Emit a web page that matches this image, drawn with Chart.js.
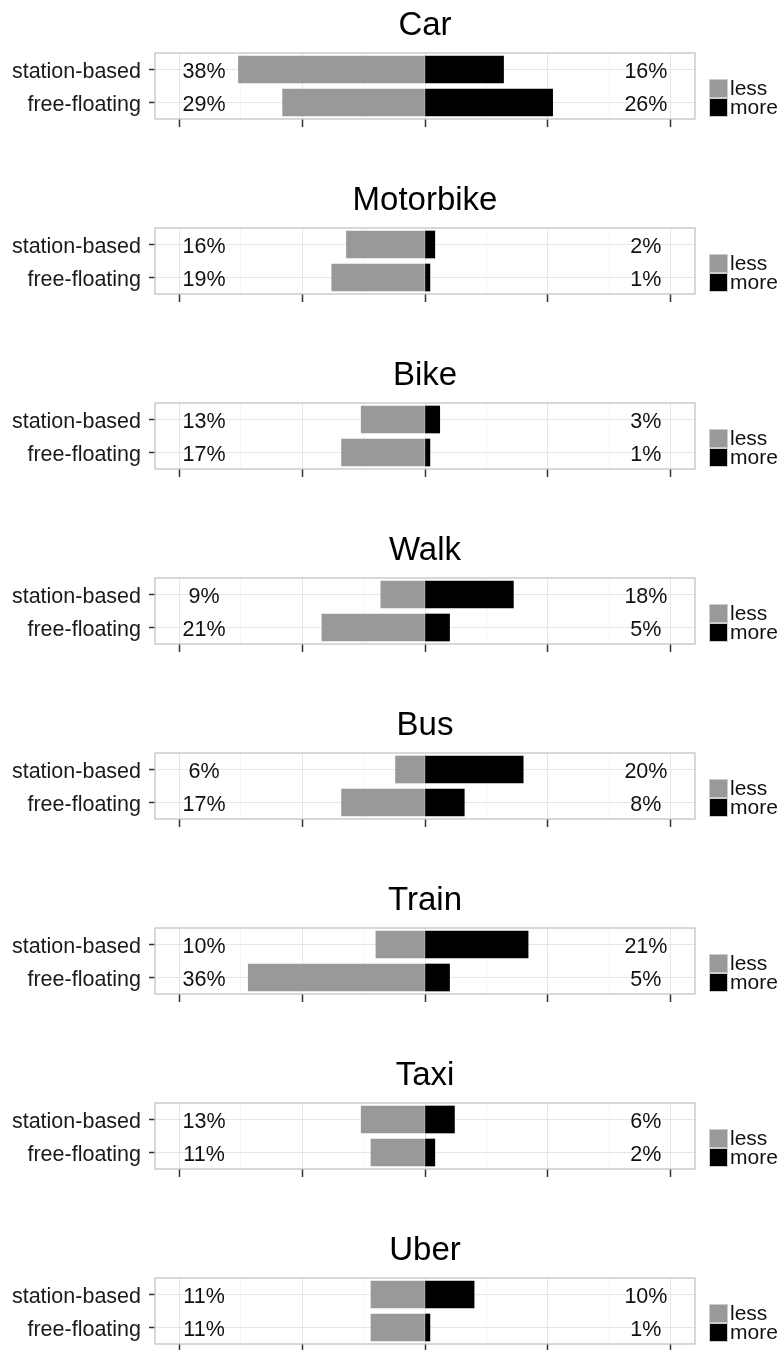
<!DOCTYPE html>
<html>
<head>
<meta charset="utf-8">
<script src="https://cdn.jsdelivr.net/npm/chart.js@4.4.0/dist/chart.umd.min.js"></script>
<style>
  body { margin: 0; background: #fff; }
  canvas { display: block; }
</style>
</head>
<body>
<div id="charts"></div>
<script>
// Share of respondents travelling less / more by each mode
const modes = ['Car', 'Motorbike', 'Bike', 'Walk', 'Bus', 'Train', 'Taxi', 'Uber'];
const groups = ['station-based', 'free-floating'];
const stationLess = [38, 16, 13, 9, 6, 10, 13, 11];
const stationMore = [16, 2, 3, 18, 20, 21, 6, 10];
const freeLess = [29, 19, 17, 21, 17, 36, 11, 11];
const freeMore = [26, 1, 1, 5, 8, 5, 2, 1];
const xTicks = [-50, -37.5, -25, -12.5, 0, 12.5, 25, 37.5, 50];
const legendLabels = ['less', 'more'];
const barColors = ['#999999', '#000000'];

const FONT = '"Liberation Sans", Arial, Helvetica, sans-serif';
Chart.defaults.font.family = FONT;
Chart.defaults.color = '#1a1a1a';

// percent labels, panel border and legend
const panelExtras = {
    id: 'panelExtras',
    afterDatasetsDraw(chart) {
        const ctx = chart.ctx;
        const a = chart.chartArea;
        const x = chart.scales.x, y = chart.scales.y;
        const less = chart.data.datasets[0].data;
        const more = chart.data.datasets[1].data;

        ctx.save();
        ctx.font = '21.5px ' + FONT;
        ctx.fillStyle = '#111';
        ctx.textAlign = 'center';
        ctx.textBaseline = 'middle';
        groups.forEach((g, i) => {
            const py = y.getPixelForValue(i) + 3;
            ctx.fillText(Math.abs(less[i]) + '%', x.getPixelForValue(-45), py);
            ctx.fillText(more[i] + '%', x.getPixelForValue(45), py);
        });

        // panel border
        ctx.strokeStyle = '#c4c4c4';
        ctx.lineWidth = 1.3;
        ctx.strokeRect(a.left, a.top, a.width, a.height);

        // legend
        const kx = a.right + 14, ky = a.top + 26, ks = 19;
        ctx.textAlign = 'left';
        ctx.font = '21px ' + FONT;
        legendLabels.forEach((lab, i) => {
            const top = ky + i * ks;
            ctx.fillStyle = barColors[i];
            ctx.fillRect(kx, top, ks, ks);
            ctx.strokeStyle = '#cccccc';
            ctx.lineWidth = 1;
            ctx.strokeRect(kx + 0.5, top + 0.5, ks - 1, ks - 1);
            ctx.fillStyle = '#111';
            ctx.fillText(lab, kx + ks + 2, top + ks / 2 + 1);
        });
        ctx.restore();
    }
};

const holder = document.getElementById('charts');

modes.forEach((mode, m) => {
    const canvas = document.createElement('canvas');
    canvas.width = 783;
    canvas.height = 175;
    holder.appendChild(canvas);

    new Chart(canvas.getContext('2d'), {
        type: 'bar',
        data: {
            labels: groups,
            datasets: [{
                label: legendLabels[0],
                data: [-stationLess[m], -freeLess[m]],
                backgroundColor: barColors[0],
                barThickness: 27
            }, {
                label: legendLabels[1],
                data: [stationMore[m], freeMore[m]],
                backgroundColor: barColors[1],
                barThickness: 27
            }]
        },
        options: {
            indexAxis: 'y',
            responsive: false,
            animation: false,
            layout: { padding: { left: 0, right: 88, top: 0, bottom: 0 } },
            scales: {
                x: {
                    stacked: true,
                    min: -55,
                    max: 55,
                    afterBuildTicks: scale => { scale.ticks = xTicks.map(v => ({ value: v })); },
                    afterFit: scale => { scale.height = 56; },
                    ticks: { display: false },
                    border: { display: false },
                    grid: {
                        color: c => (c.tick && c.tick.value % 25 === 0) ? '#e6e6e6' : '#f3f3f3',
                        lineWidth: c => (c.tick && c.tick.value % 25 === 0) ? 1 : 0.8,
                        tickColor: c => (c.tick && c.tick.value % 25 === 0) ? '#333333' : 'rgba(0,0,0,0)',
                        tickLength: 8,
                        tickWidth: 1.5
                    }
                },
                y: {
                    stacked: true,
                    afterFit: scale => { scale.width = 155; },
                    ticks: {
                        padding: 8,
                        labelOffset: 3,
                        color: '#1a1a1a',
                        font: { size: 21.5 }
                    },
                    border: { display: false },
                    grid: {
                        offset: false,
                        color: '#e6e6e6',
                        tickColor: '#333333',
                        tickLength: 6,
                        tickWidth: 1.5
                    }
                }
            },
            plugins: {
                legend: { display: false },
                tooltip: { enabled: false },
                title: {
                    display: true,
                    fullSize: false,
                    text: mode,
                    color: '#000',
                    font: { size: 33, weight: 'normal' },
                    padding: { top: 6, bottom: 7.4 }
                }
            }
        },
        plugins: [panelExtras]
    });
});
</script>
</body>
</html>
